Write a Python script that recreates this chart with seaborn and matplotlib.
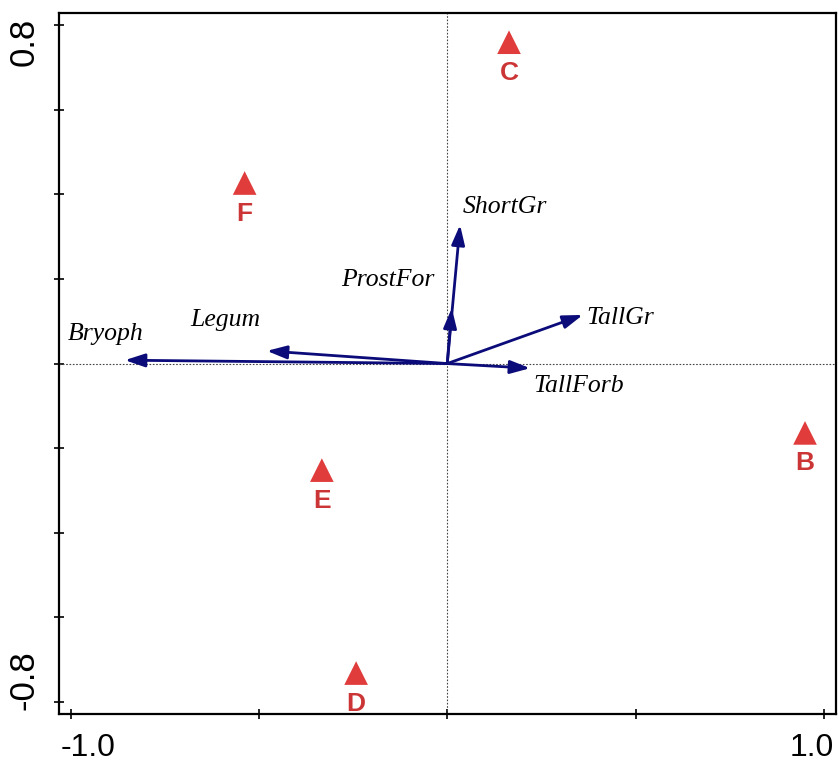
import matplotlib
matplotlib.use("Agg")
import matplotlib.pyplot as plt
import matplotlib.transforms as mtransforms
import seaborn as sns
import pandas as pd

# Site scores (triangles)
sites = ["B", "C", "D", "E", "F"]
site_x = [0.950, 0.164, -0.242, -0.333, -0.538]
site_y = [-0.164, 0.760, -0.732, -0.252, 0.427]

# Functional-group vectors (arrows)
groups = ["Bryoph", "Legum", "ProstFor", "ShortGr", "TallGr", "TallForb"]
group_x = [-0.856, -0.479, 0.012, 0.034, 0.360, 0.220]
group_y = [0.008, 0.030, 0.131, 0.328, 0.115, -0.011]

# Label offsets from arrow tips, in points
label_offsets = {
    "Bryoph": (-14, 19),
    "Legum": (-30, 22),
    "ProstFor": (-46, 20),
    "ShortGr": (32, 13),
    "TallGr": (27, -2),
    "TallForb": (35, -13),
}

sites_df = pd.DataFrame({"site": sites, "x": site_x, "y": site_y})

sns.set_style("white")
plt.rcParams["font.family"] = ["Liberation Sans", "DejaVu Sans"]

fig = plt.figure(figsize=(8.39, 7.67), dpi=100)
ax = fig.add_axes([0.0703, 0.069, 0.926, 0.914])

ax.axhline(0, color="#444444", lw=0.8, ls=(0, (1.5, 1.5)), zorder=1)
ax.axvline(0, color="#444444", lw=0.8, ls=(0, (1.5, 1.5)), zorder=1)

arrow_color = "#0b0b7a"
for name, gx, gy in zip(groups, group_x, group_y):
    ax.annotate("", xy=(gx, gy), xytext=(0, 0),
                arrowprops=dict(arrowstyle="-|>,head_length=0.6,head_width=0.2",
                                color=arrow_color, lw=2.0, mutation_scale=20,
                                shrinkA=0, shrinkB=0), zorder=3)
    dx, dy = label_offsets[name]
    ax.annotate(name, xy=(gx, gy), xytext=(dx, dy), textcoords="offset points",
                ha="center", va="center", fontsize=18.5, style="italic",
                family=["Liberation Serif", "DejaVu Serif"], color="black")

sns.scatterplot(data=sites_df, x="x", y="y", marker="^", s=290,
                color="#e03c3c", edgecolor="none", ax=ax, zorder=4, legend=False)
for name, sx, sy in zip(sites, site_x, site_y):
    ax.annotate(name, xy=(sx, sy), xytext=(0, -22), textcoords="offset points",
                ha="center", va="center", fontsize=19, fontweight="bold",
                color="#cc3535")

ax.set_xlim(-1.031, 1.032)
ax.set_ylim(-0.829, 0.829)
ax.set_xlabel("")
ax.set_ylabel("")

ax.set_xticks([-1.0, -0.5, 0.0, 0.5, 1.0])
ax.set_xticklabels(["-1.0", "", "", "", "1.0"])
ax.set_yticks([-0.8, -0.6, -0.4, -0.2, 0.0, 0.2, 0.4, 0.6, 0.8])
ax.set_yticklabels(["-0.8", "", "", "", "", "", "", "", "0.8"])

ax.tick_params(axis="both", bottom=True, left=True, direction="inout",
               length=7, width=1.2, color="black", labelcolor="black")
ax.tick_params(axis="x", labelsize=23, pad=10)
ax.tick_params(axis="y", labelsize=25, pad=10)
for lab in ax.get_yticklabels():
    lab.set_rotation(90)
    lab.set_va("center")

# nudge end labels inward
def nudge(label, dx, dy):
    label.set_transform(label.get_transform() +
                        mtransforms.ScaledTranslation(dx / 100, dy / 100, fig.dpi_scale_trans))

xl = ax.get_xticklabels()
nudge(xl[0], 17, 0)
nudge(xl[-1], -12, 0)
yl = ax.get_yticklabels()
nudge(yl[0], 0, 22)
nudge(yl[-1], 0, -17)

for sp in ax.spines.values():
    sp.set_visible(True)
    sp.set_color("black")
    sp.set_linewidth(1.6)

fig.savefig("out.png", dpi=100, facecolor="white")
